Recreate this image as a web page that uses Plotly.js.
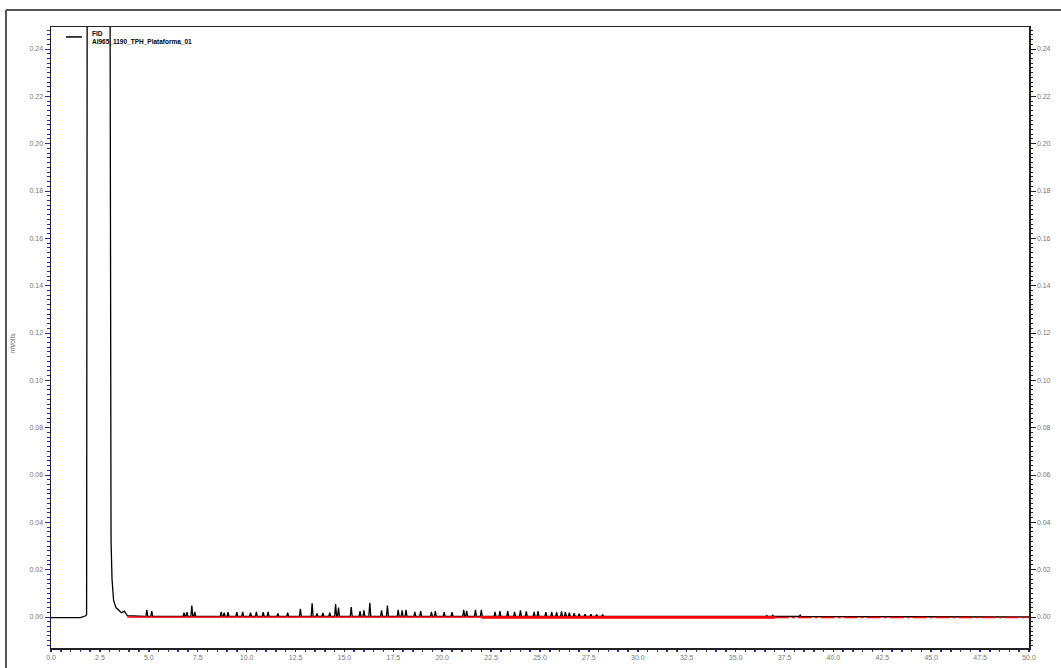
<!DOCTYPE html>
<html>
<head>
<meta charset="utf-8">
<script src="https://cdn.plot.ly/plotly-3.0.1.min.js"></script>
<style>html,body{margin:0;padding:0;background:#fff;}#chart{width:1061px;height:668px;}</style>
</head>
<body>
<div id="chart"></div>
<script>
// Solvent front and main peak (minutes, mVolts)
const solventTime = [0, 1.50, 1.75, 1.82, 1.86, 2.40, 3.00, 3.03, 3.07, 3.12, 3.20, 3.32, 3.48, 3.60, 3.75, 3.90];
const solventSignal = [-0.0003, -0.0003, 0.0004, 0.0010, 0.35, 0.90, 0.35, 0.060, 0.032, 0.016, 0.007, 0.004, 0.0025, 0.0018, 0.0025, 0.0006];

// Small resolved peaks on the baseline
const peakTimes = [4.9, 5.15, 6.8, 6.95, 7.2, 7.35, 8.7, 8.85, 9.05, 9.5, 9.8, 10.2, 10.5, 10.85, 11.1, 11.6,
  12.1, 12.75, 13.35, 13.6, 13.9, 14.25, 14.55, 14.7, 15.35, 15.8, 16.0, 16.3, 16.9, 17.2, 17.75, 17.95, 18.15,
  18.6, 18.9, 19.45, 19.65, 20.1, 20.5, 21.1, 21.25, 21.7, 22.0, 22.7, 22.95, 23.35, 23.7, 24.0, 24.3, 24.7,
  24.9, 25.3, 25.6, 25.85, 26.1, 26.3, 26.5, 26.75, 27.0, 27.3, 27.6, 27.9, 28.2, 36.6, 36.9, 37.2, 38.3];
const peakHeights = [0.0030, 0.0025, 0.0018, 0.0020, 0.0048, 0.0022, 0.0022, 0.0018, 0.0020, 0.0020, 0.0022, 0.0018, 0.0022, 0.0020, 0.0022, 0.0015,
  0.0018, 0.0035, 0.0058, 0.0015, 0.0017, 0.0018, 0.0055, 0.0040, 0.0042, 0.0025, 0.0028, 0.0060, 0.0028, 0.0048, 0.0030, 0.0028, 0.0030,
  0.0022, 0.0025, 0.0022, 0.0025, 0.0020, 0.0020, 0.0030, 0.0026, 0.0030, 0.0030, 0.0022, 0.0025, 0.0025, 0.0022, 0.0028, 0.0024, 0.0022,
  0.0025, 0.0020, 0.0022, 0.0020, 0.0024, 0.0020, 0.0018, 0.0016, 0.0014, 0.0012, 0.0012, 0.0010, 0.0010, 0.0006, 0.0007, 0.0005, 0.0008];
const peakBaseline = 0.0002;
const runEnd = 50;

// Integration baseline segments (red)
const baseThinTime = [3.9, 22.0];
const baseThinValue = [0.0, 0.0];
const baseThickTime = [22.0, 37.0];
const baseThickValue = [-0.0002, -0.0002];
const baseDashTime = [37.0, 50.0];
const baseDashValue = [-0.0002, -0.0002];

const yTickVals = [0, 0.02, 0.04, 0.06, 0.08, 0.10, 0.12, 0.14, 0.16, 0.18, 0.20, 0.22, 0.24];
const xTickVals = [0, 2.5, 5, 7.5, 10, 12.5, 15, 17.5, 20, 22.5, 25, 27.5, 30, 32.5, 35, 37.5, 40, 42.5, 45, 47.5, 50];

// Build the chromatogram line from the read-off points
const tx = solventTime.slice();
const ty = solventSignal.slice();
const hw = 0.05;
for (let i = 0; i < peakTimes.length; i++) {
  tx.push(peakTimes[i] - hw, peakTimes[i], peakTimes[i] + hw);
  ty.push(peakBaseline, peakHeights[i], peakBaseline);
}
tx.push(runEnd); ty.push(0.0);

const tickFont = {family: 'Liberation Sans, Arial, sans-serif', size: 7, color: '#777777'};
const blue = '#2a2a9a';

const traces = [
  {x: tx, y: ty, type: 'scatter', mode: 'lines', line: {color: '#000', width: 1.3}, hoverinfo: 'skip'},
  {x: baseThinTime, y: baseThinValue, type: 'scatter', mode: 'lines', line: {color: '#ff0000', width: 1.7}},
  {x: baseThickTime, y: baseThickValue, type: 'scatter', mode: 'lines', line: {color: '#ff0000', width: 2.8}},
  {x: baseDashTime, y: baseDashValue, type: 'scatter', mode: 'lines', line: {color: '#ff0000', width: 1.5, dash: '14px,3px,3px,3px'}},
  {x: [0, 50], y: [0, 0], yaxis: 'y2', type: 'scatter', mode: 'lines', line: {width: 0}, hoverinfo: 'skip'}
];

const yRange = [-0.0131, 0.2493];
const layout = {
  width: 1061, height: 668,
  margin: {l: 51, r: 32, t: 27, b: 20},
  paper_bgcolor: '#fff', plot_bgcolor: '#fff',
  showlegend: false,
  xaxis: {
    range: [0, 50], tickvals: xTickVals, tickformat: '.1f',
    showgrid: false, zeroline: false,
    showline: true, linecolor: '#222', linewidth: 1.5, mirror: true,
    ticks: 'outside', ticklen: 2, tickcolor: blue, tickwidth: 1,
    minor: {dtick: 0.5, ticks: 'outside', ticklen: 2, tickcolor: blue, tickwidth: 1.5},
    tickfont: tickFont
  },
  yaxis: {
    range: yRange, tickvals: yTickVals, tickformat: '.2f',
    showgrid: false, zeroline: false,
    showline: true, linecolor: '#222', linewidth: 1.5,
    ticks: 'outside', ticklen: 5, tickcolor: blue, tickwidth: 1,
    minor: {dtick: 0.002, ticks: 'outside', ticklen: 2.5, tickcolor: blue, tickwidth: 1},
    tickfont: tickFont
  },
  yaxis2: {
    range: yRange, tickvals: yTickVals, tickformat: '.2f', overlaying: 'y', side: 'right',
    showgrid: false, zeroline: false,
    showline: true, linecolor: '#222', linewidth: 1.5,
    ticks: 'outside', ticklen: 5, tickcolor: '#222', tickwidth: 1,
    minor: {dtick: 0.002, ticks: 'outside', ticklen: 2.5, tickcolor: '#222', tickwidth: 1},
    tickfont: tickFont
  },
  shapes: [
    {type: 'line', xref: 'paper', yref: 'paper', x0: -0.046, x1: 1.04, y0: 1.0274, y1: 1.0274, line: {color: '#555', width: 2}},
    {type: 'line', xref: 'paper', yref: 'paper', x0: -0.046, x1: -0.046, y0: 1.0274, y1: -0.05, line: {color: '#555', width: 2}},
    {type: 'line', xref: 'paper', yref: 'paper', x0: 0.0153, x1: 0.0317, y0: 0.984, y1: 0.984, line: {color: '#000', width: 1.5}}
  ],
  annotations: [
    {xref: 'paper', yref: 'paper', x: 0.0395, y: 0.998, xanchor: 'left', yanchor: 'top', align: 'left', showarrow: false,
     text: '<b>FID</b><br><b>AI965_1190_TPH_Plataforma_01</b>',
     font: {family: 'Liberation Sans, Arial, sans-serif', size: 6.5, color: '#000'}},
    {xref: 'paper', yref: 'paper', x: -0.0399, y: 0.491, xanchor: 'center', yanchor: 'middle', showarrow: false, textangle: -90,
     text: 'mVolts', font: {family: 'Liberation Sans, Arial, sans-serif', size: 6.5, color: '#666'}}
  ]
};

Plotly.newPlot('chart', traces, layout, {staticPlot: true, displayModeBar: false});
</script>
</body>
</html>
